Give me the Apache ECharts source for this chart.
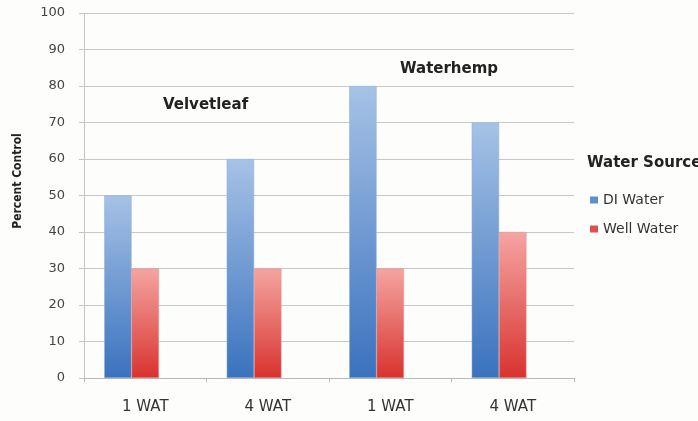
<!DOCTYPE html>
<html>
<head>
<meta charset="utf-8">
<script src="https://cdn.jsdelivr.net/npm/echarts@6/dist/echarts.min.js"></script>
<style>
  html, body { margin: 0; padding: 0; background: #fdfdfb; }
  #chart { width: 698px; height: 421px; }
</style>
</head>
<body>
<div id="chart"></div>
<script>
// Weeks after treatment, two per weed species
const categories = ['1 WAT', '4 WAT', '1 WAT', '4 WAT'];
const diWater = [50, 60, 80, 70];
const wellWater = [30, 30, 30, 40];
// third slot of each group is left empty
const emptySlot = ['-', '-', '-', '-'];
const yTicks = { min: 0, max: 100, interval: 10 };

const FONT = '"DejaVu Sans", sans-serif';
const FONT_NARROW = '"DejaVu Sans Condensed", "DejaVu Sans", sans-serif';

function grad(top, bottom) {
  return new echarts.graphic.LinearGradient(0, 0, 0, 1, [
    { offset: 0, color: top },
    { offset: 1, color: bottom }
  ]);
}

const chart = echarts.init(document.getElementById('chart'), null, { renderer: 'canvas' });

chart.setOption({
  backgroundColor: '#fdfdfb',
  animation: false,
  grid: { left: 84, right: 124, top: 13, bottom: 43 },
  legend: {
    orient: 'vertical',
    left: 585,
    top: 187,
    itemWidth: 8,
    itemHeight: 7,
    itemGap: 13,
    icon: 'rect',
    textStyle: { fontFamily: FONT, fontSize: 14, lineHeight: 16, color: '#333' },
    data: [
      { name: 'DI Water', itemStyle: { color: '#5b8fd0', borderWidth: 0 } },
      { name: 'Well Water', itemStyle: { color: '#e0504c', borderWidth: 0 } }
    ]
  },
  graphic: [
    {
      type: 'text', left: 587, top: 156,
      style: { text: 'Water Source', font: 'bold 15px ' + FONT, fill: '#222' }
    },
    {
      type: 'text', left: 163, top: 98,
      style: { text: 'Velvetleaf', font: 'bold 15px ' + FONT, fill: '#222' }
    },
    {
      type: 'text', left: 400, top: 62,
      style: { text: 'Waterhemp', font: 'bold 15px ' + FONT, fill: '#222' }
    },
    {
      type: 'text', x: 18, y: 181, rotation: Math.PI / 2,
      style: {
        text: 'Percent Control', font: 'bold 12px ' + FONT_NARROW, fill: '#222',
        textAlign: 'center', textVerticalAlign: 'middle'
      }
    }
  ],
  xAxis: {
    type: 'category',
    data: categories,
    axisLine: { lineStyle: { color: '#b8b8b8' } },
    axisTick: { show: true, length: 4, lineStyle: { color: '#b8b8b8' } },
    axisLabel: { fontFamily: FONT, fontSize: 15, color: '#333', margin: 22 }
  },
  yAxis: {
    type: 'value',
    min: yTicks.min,
    max: yTicks.max,
    interval: yTicks.interval,
    axisLine: { show: true, lineStyle: { color: '#c4c4c4' } },
    axisTick: { show: true, length: 5, lineStyle: { color: '#c4c4c4' } },
    axisLabel: { fontFamily: FONT, fontSize: 13, color: '#444', margin: 19 },
    splitLine: { lineStyle: { color: '#c8c8c8' } }
  },
  series: [
    {
      name: 'DI Water', type: 'bar', data: diWater,
      barGap: '0%', barCategoryGap: '33%',
      itemStyle: { color: grad('#a6c2e6', '#3a72be'), borderColor: '#8fb0dc', borderWidth: 0.5 }
    },
    {
      name: 'Well Water', type: 'bar', data: wellWater,
      barGap: '0%', barCategoryGap: '33%',
      itemStyle: { color: grad('#f5a5a2', '#d8332e'), borderColor: '#eb8a86', borderWidth: 0.5 }
    },
    {
      name: 'spare', type: 'bar', data: emptySlot,
      barGap: '0%', barCategoryGap: '33%'
    }
  ]
});
</script>
</body>
</html>
